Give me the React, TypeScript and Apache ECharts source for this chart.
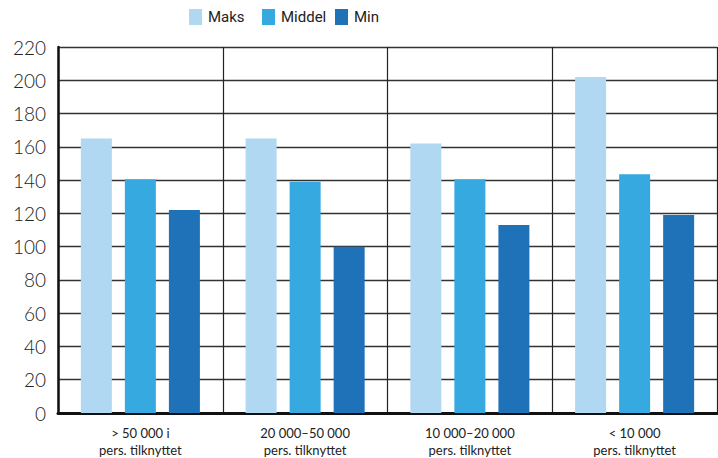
import React, { useEffect, useRef } from "react";
import * as echarts from "echarts";

const categories = [
  "> 50 000 i\npers. tilknyttet",
  "20 000–50 000\npers. tilknyttet",
  "10 000–20 000\npers. tilknyttet",
  "< 10 000\npers. tilknyttet",
];
const seriesNames = ["Maks", "Middel", "Min"];
const maks = [165, 165, 162, 202];
const middel = [140.5, 139, 140.5, 143.5];
const minVals = [122, 100, 113, 119];
const yTicks = { min: 0, max: 220, interval: 20 };

const legendLeft = [184, 257, 330];

export default function App() {
  const ref = useRef<HTMLDivElement>(null);
  useEffect(() => {
    if (!ref.current) return;
    const chart = echarts.init(ref.current, null, { renderer: "svg" });
    chart.setOption({
      animation: false,
      legend: seriesNames.map((n, i) => ({
        top: 4,
        left: legendLeft[i],
        itemWidth: 13,
        itemHeight: 16,
        itemGap: 0,
        icon: "rect",
        textStyle: {
          fontFamily: "Roboto",
          fontSize: 15,
          color: "#222",
          padding: [0, 0, 0, 1],
        },
        data: [n],
      })),
      grid: { left: 58, right: 1, top: 47, bottom: 43, containLabel: false },
      xAxis: {
        type: "category",
        data: categories,
        boundaryGap: true,
        axisLine: { lineStyle: { color: "#111", width: 3 } },
        axisTick: { show: false },
        splitLine: { show: true, lineStyle: { color: "#222", width: 1.2 } },
        axisLabel: {
          interval: 0,
          fontFamily: "Lato",
          fontSize: 13,
          lineHeight: 17,
          color: "#222",
          margin: 11,
        },
      },
      yAxis: {
        type: "value",
        min: yTicks.min,
        max: yTicks.max,
        interval: yTicks.interval,
        axisLine: { show: true, lineStyle: { color: "#111", width: 2.5 } },
        axisTick: { show: false },
        splitLine: { show: true, lineStyle: { color: "#333", width: 1.4 } },
        axisLabel: { fontFamily: "Lato", fontWeight: 300, fontSize: 19, color: "#222", margin: 12 },
      },
      series: [
        { name: "Maks", type: "bar", data: maks, barWidth: 31, barGap: "42%", itemStyle: { color: "#b0d8f2" } },
        { name: "Middel", type: "bar", data: middel, barWidth: 31, barGap: "42%", itemStyle: { color: "#36a9e1" } },
        { name: "Min", type: "bar", data: minVals, barWidth: 31, barGap: "42%", itemStyle: { color: "#1f71b8" } },
      ],
    });
    return () => chart.dispose();
  }, []);
  return (
    <div
      ref={ref}
      style={{ position: "fixed", left: 0, top: 0, width: 718, height: 458, background: "#fff" }}
    />
  );
}
